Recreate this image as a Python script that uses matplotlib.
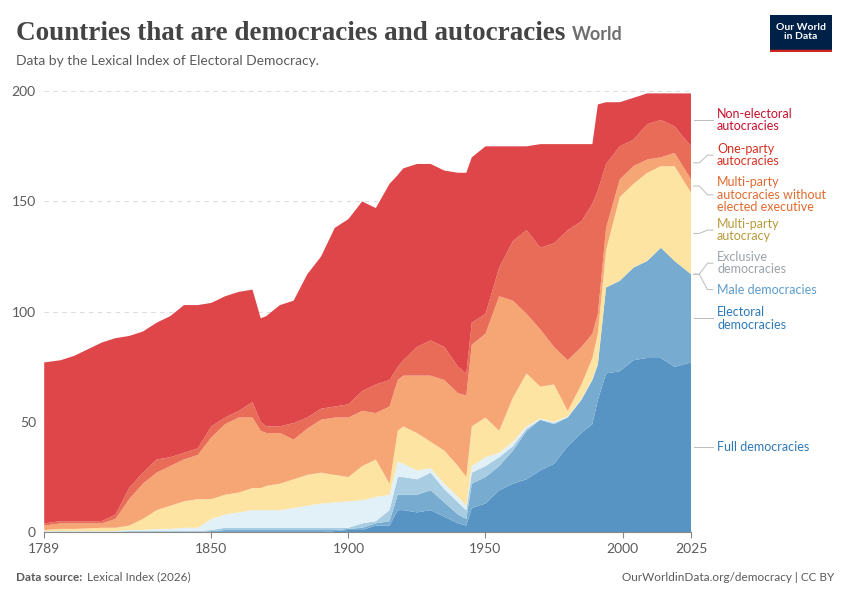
import matplotlib
matplotlib.use('Agg')
import matplotlib.pyplot as plt
import numpy as np

plt.rcParams['font.family'] = ['Lato', 'DejaVu Sans']

# cumulative tops of each layer (bottom to top)
years = [1789, 1795, 1800, 1810, 1815, 1820, 1825, 1830, 1835, 1840, 1845, 1850, 1855, 1860,
         1865, 1868, 1870, 1875, 1880, 1885, 1890, 1895, 1900, 1905, 1910, 1915, 1918, 1920,
         1925, 1930, 1935, 1940, 1943, 1945, 1950, 1955, 1960, 1965, 1970, 1975, 1980, 1985,
         1989, 1991, 1994, 1999, 2004, 2009, 2014, 2019, 2025]
total = [77, 78, 80, 86, 88, 89, 91, 95, 98, 103, 103, 104, 107, 109, 110, 97, 98, 103, 105, 117,
         125, 138, 142, 150, 147, 158, 162, 165, 167, 167, 164, 163, 163, 170, 175, 175, 175, 175,
         176, 176, 176, 176, 176, 194, 195, 195, 197, 199, 199, 199, 199]
top_one_party = [4, 5, 5, 5, 8, 20, 27, 33, 34, 36, 38, 48, 52, 55, 59, 50, 48, 48, 49.5, 52, 56,
                 57, 58, 64, 67, 69, 75, 78, 84, 87, 84, 75, 72, 95, 99, 120, 132, 137, 129, 131,
                 137, 141, 149, 155, 167, 175, 178, 185, 187, 184, 175]
top_multi_noexec = [3, 4, 4, 4, 6, 15, 22, 27, 30, 33, 35, 43, 49, 52, 52, 46, 45, 45, 42, 47, 51,
                    52, 52, 55, 54, 57, 69, 71, 71, 71, 69, 63, 62, 85, 90, 107, 105, 99, 92, 84,
                    78, 84, 90, 99, 138, 160, 166, 169, 170, 172, 160]
top_multi = [1, 1.5, 1.5, 2, 2, 3, 6, 10, 12, 14, 15, 15, 17, 18, 20, 20, 21, 22, 24, 26, 27, 26,
             25, 30, 33, 22, 46, 48, 45, 41, 37, 30, 25, 48, 52, 46, 61, 72, 66, 67, 55, 67, 79,
             90, 128, 152, 158, 163, 166, 166, 154]
top_exclusive = [0.5, 0.5, 0.5, 0.5, 0.5, 1, 1, 1.5, 1.5, 2, 2, 6, 8, 9, 10, 10, 10, 10, 11, 12,
                 13, 13.5, 14, 14.5, 16, 17, 32, 31, 28, 29, 22, 16, 12, 30, 34, 36, 41, 48, 51.5,
                 50, 52.5, 60.5, 69.5, 76.5, 111, 114, 120, 123, 129, 123, 117]
top_male = [0.3, 0.3, 0.3, 0.3, 0.3, 0.5, 0.5, 0.5, 0.5, 0.5, 0.5, 1, 2, 2, 2, 2, 2, 2, 2, 2, 2, 2,
            2, 4, 5, 10, 25, 25, 24, 27, 19.5, 13.5, 10, 27, 30, 34, 39, 47, 51, 49.5, 52.2, 60.2,
            69.2, 76.2, 111, 114, 120, 123, 129, 123, 117]
top_electoral = [0.2, 0.2, 0, 0, 0, 0, 0, 0, 0, 0, 0, 0.5, 1, 1, 1, 1, 1, 1, 1, 1, 1, 1, 1.5, 2, 4,
                 5, 17, 17, 17, 19, 13.5, 8, 6, 22, 25, 30, 37, 46, 51, 49, 52, 60, 69, 76, 111,
                 114, 120, 123, 129, 123, 117]
top_full = [0, 0, 0, 0, 0, 0, 0, 0, 0, 0, 0, 0, 0, 0, 0, 0, 0, 0, 0, 0, 0, 0.5, 1, 1, 3, 3, 10, 10,
            9, 10, 7, 4, 3, 11, 13, 19, 22, 24, 28, 31, 39, 45, 49, 60, 72, 73, 78, 79, 79, 75, 77]

names = ['Full democracies', 'Electoral\ndemocracies', 'Male democracies', 'Exclusive\ndemocracies',
         'Multi-party\nautocracy', 'Multi-party\nautocracies without\nelected executive',
         'One-party\nautocracies', 'Non-electoral\nautocracies']
fills = ['#5794c4', '#77abd0', '#a8cce2', '#e1f1f7', '#fde4a3', '#f5a674', '#e96c58', '#de4649']
text_cols = ['#2f79b6', '#2f79b6', '#5d9ccb', '#9aa3aa', '#b89a3c', '#e06a2f', '#d7301f', '#c8102e']
label_y = [38.5, 97, 110, 122, 137, 153, 171, 187]

tops = np.array([top_full, top_electoral, top_male, top_exclusive, top_multi,
                 top_multi_noexec, top_one_party, total], dtype=float)
layers = np.diff(np.vstack([np.zeros(len(years)), tops]), axis=0)

fig = plt.figure(figsize=(8.5, 6), dpi=100)
ax = fig.add_axes([0.052, 0.113, 0.761, 0.735])
ax.stackplot(years, layers, colors=fills, linewidth=0)
ax.set_xlim(1789, 2025)
ax.set_ylim(0, 200)
ax.set_yticks([0, 50, 100, 150, 200])
ax.set_xticks([1789, 1850, 1900, 1950, 2000, 2025])
ax.tick_params(axis='y', length=0, labelsize=10, labelcolor='#5b5b5b', pad=6)
ax.tick_params(axis='x', length=4, color='#888', labelsize=10, labelcolor='#5b5b5b')
for s in ['top', 'right', 'left']:
    ax.spines[s].set_visible(False)
ax.spines['bottom'].set_color('#888')
ax.yaxis.grid(True, linestyle=(0, (4, 4)), color='#dddddd', linewidth=0.8)
ax.set_axisbelow(True)

# right-hand labels with small leader lines
layer_mid = [(tops[i, -1] + (tops[i - 1, -1] if i else 0)) / 2 for i in range(8)]
for name, col, ly, my in zip(names, text_cols, label_y, layer_mid):
    ax.plot([2026, 2028, 2031, 2033], [my, my, ly, ly], color='#bbbbbb', lw=0.7, clip_on=False)
    ax.text(2034.5, ly, name, fontsize=9, color=col, va='center', ha='left', clip_on=False,
            linespacing=1.05)

title = fig.text(0.019, 0.945, 'Countries that are democracies and autocracies', fontsize=19.5,
                 family=['Liberation Serif', 'DejaVu Serif'], fontweight='bold', color='#444444',
                 va='center')
fig.canvas.draw()
bb = title.get_window_extent().transformed(fig.transFigure.inverted())
fig.text(bb.x1 + 0.008, 0.943, 'World', fontsize=13, color='#6e6e6e', va='center', fontweight='bold')
fig.text(0.019, 0.898, 'Data by the Lexical Index of Electoral Democracy.', fontsize=10,
         color='#5b5b5b', va='center')
fig.text(0.019, 0.038, 'Data source:', fontsize=8.5, color='#5b5b5b', fontweight='bold', va='center')
fig.text(0.102, 0.038, 'Lexical Index (2026)', fontsize=8.5, color='#5b5b5b', va='center')
fig.text(0.982, 0.038, 'OurWorldinData.org/democracy | CC BY', fontsize=8.5, color='#5b5b5b',
         va='center', ha='right')

logo = fig.add_axes([0.906, 0.913, 0.073, 0.062])
logo.set_facecolor('#002147')
logo.set_xticks([])
logo.set_yticks([])
for s in logo.spines.values():
    s.set_visible(False)
logo.text(0.5, 0.55, 'Our World\nin Data', color='white', fontsize=7.5, fontweight='bold',
          ha='center', va='center', transform=logo.transAxes, linespacing=1.0)
logo.axhline(0.03, color='#ce261e', lw=2.5)

fig.savefig('out.png', dpi=100, facecolor='white')
